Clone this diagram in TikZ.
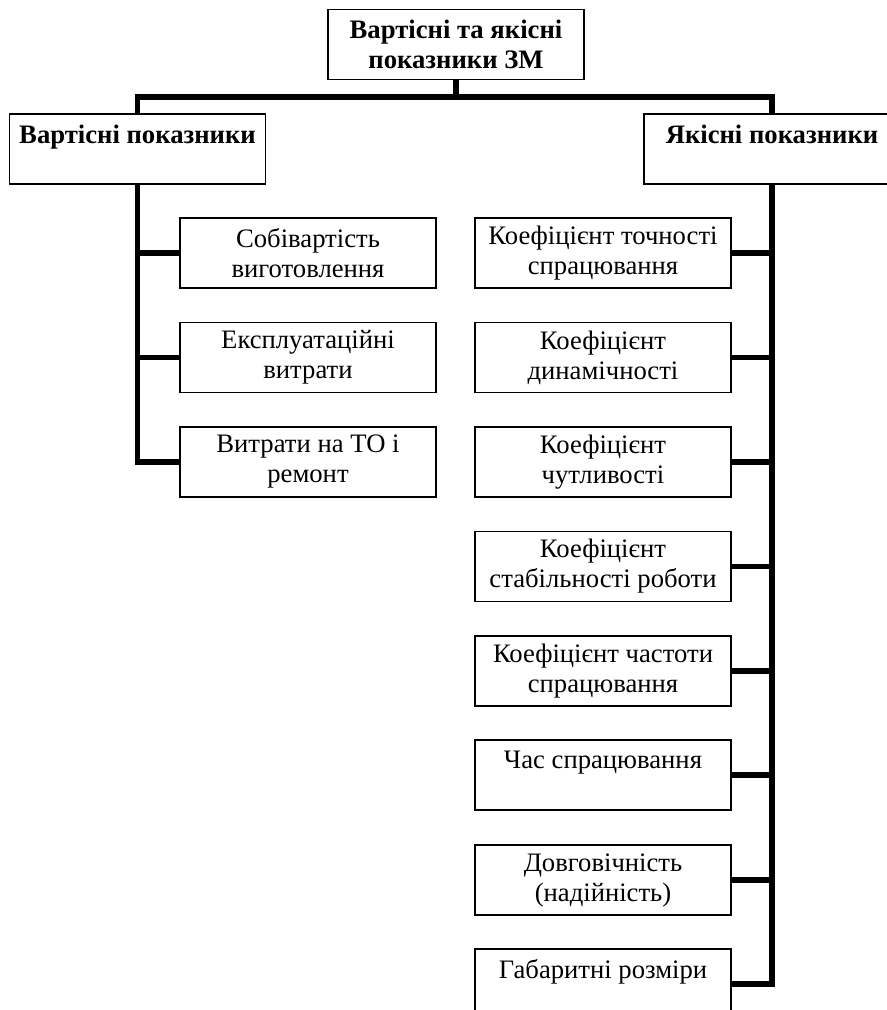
\documentclass[tikz,border=0pt]{standalone}
\usepackage{fontspec}
\setmainfont{Liberation Serif}
\usetikzlibrary{positioning}

\begin{document}
\begin{tikzpicture}[
        x=0.75pt, y=-0.75pt,
        box/.style={draw, fill=white, line width=1.1pt, align=center,
            minimum width=192pt, minimum height=52.5pt, inner sep=0pt,
            font=\fontsize{20}{22.5}\selectfont},
        headbox/.style={box, font=\fontsize{20}{22.5}\selectfont\bfseries},
        link/.style={line width=3.8pt}
        ]
            \useasboundingbox (0, 0) rectangle (887, 1010);

            % Top
            \node[headbox] (top) at (456, 44.5) {Вартісні та якісні\\показники ЗМ};
            \node[headbox] (lhead) at (137.5, 149) {Вартісні показники\\\mbox{}};
            \node[headbox] (rhead) at (772, 149) {Якісні показники\\\mbox{}};

            % Cost branch
            \node[box] (cost1) at (308, 253) {Собівартість\\виготовлення};
            \node[box] (cost2) at (308, 357.5) {Експлуатаційні\\витрати};
            \node[box] (cost3) at (308, 462) {Витрати на ТО і\\ремонт};

            % Quality branch
            \node[box] (qual1) at (603, 253) {Коефіцієнт точності\\спрацювання};
            \node[box] (qual2) at (603, 357.5) {Коефіцієнт\\динамічності};
            \node[box] (qual3) at (603, 462) {Коефіцієнт\\чутливості};
            \node[box] (qual4) at (603, 566.5) {Коефіцієнт\\стабільності роботи};
            \node[box] (qual5) at (603, 671) {Коефіцієнт частоти\\спрацювання};
            \node[box] (qual6) at (603, 775) {Час спрацювання\\\mbox{}};
            \node[box] (qual7) at (603, 880) {Довговічність\\(надійність)};
            \node[box] (qual8) at (603, 984) {Габаритні розміри\\\mbox{}};

            % Connectors
            \coordinate (fork) at (456, 97);
            \draw[link] (top.south) -- (fork);
            \draw[link] (lhead.north) |- (fork) -| (rhead.north);
            \draw[link] (lhead.south) |- (cost1.west);
            \draw[link] (lhead.south) |- (cost2.west);
            \draw[link] (lhead.south) |- (cost3.west);
            \draw[link] (rhead.south) |- (qual1.east);
            \draw[link] (rhead.south) |- (qual2.east);
            \draw[link] (rhead.south) |- (qual3.east);
            \draw[link] (rhead.south) |- (qual4.east);
            \draw[link] (rhead.south) |- (qual5.east);
            \draw[link] (rhead.south) |- (qual6.east);
            \draw[link] (rhead.south) |- (qual7.east);
            \draw[link] (rhead.south) |- (qual8.east);
        \end{tikzpicture}
\end{document}
